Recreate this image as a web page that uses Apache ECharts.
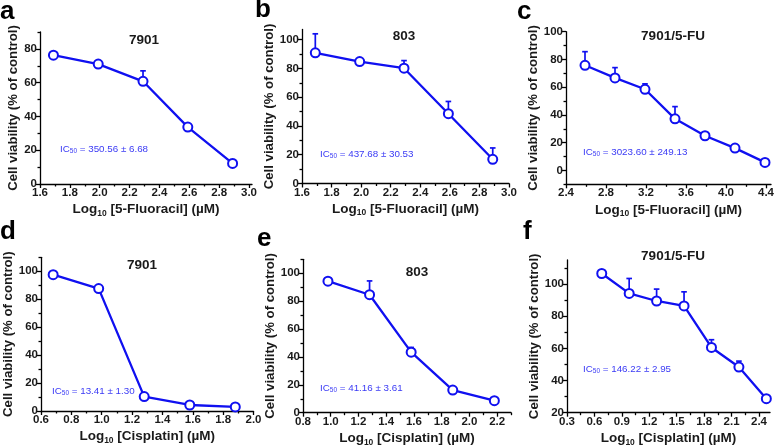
<!DOCTYPE html>
<html><head><meta charset="utf-8">
<script src="https://cdn.jsdelivr.net/npm/echarts@6/dist/echarts.min.js"></script>
<style>html,body{margin:0;padding:0;background:#fff}#c{width:777px;height:448px}</style>
</head><body><div id="c"></div>
<script>
// ---------- data ----------
const xA = [1.69, 1.99, 2.29, 2.59, 2.89];
const yA = [76.3, 71.0, 60.8, 33.7, 12.2];
const eA = [1.2, 0.6, 6.2, 0.8, 2.2];

const xB = [1.69, 1.99, 2.29, 2.59, 2.89];
const yB = [90.8, 84.7, 80.1, 48.5, 16.8];
const eB = [13.2, 1.0, 5.3, 8.5, 7.9];

const xC = [2.59, 2.89, 3.19, 3.49, 3.79, 4.09, 4.39];
const yC = [75.8, 66.7, 58.5, 37.2, 25.0, 16.1, 5.8];
const eC = [9.8, 7.4, 3.9, 8.8, 1.0, 1.2, 0.8];

const xD = [0.68, 0.98, 1.28, 1.58, 1.88];
const yD = [97.6, 87.6, 10.3, 4.3, 2.9];
const eD = [1.0, 1.0, 1.0, 1.0, 0.8];

const xE = [0.98, 1.28, 1.58, 1.88, 2.18];
const yE = [94.3, 84.6, 43.4, 16.2, 8.6];
const eE = [2.2, 9.9, 3.4, 1.0, 1.0];

const xF = [0.68, 0.98, 1.28, 1.58, 1.88, 2.18, 2.48];
const yF = [106.6, 94.2, 89.5, 86.4, 60.6, 48.4, 28.7];
const eF = [0.5, 9.3, 7.4, 8.8, 4.8, 3.7, 0.5];

const titles = ['7901', '803', '7901/5-FU', '7901', '803', '7901/5-FU'];
const letters = ['a', 'b', 'c', 'd', 'e', 'f'];
const ic50 = ['350.56 ± 6.68', '437.68 ± 30.53', '3023.60 ± 249.13', '13.41 ± 1.30', '41.16 ± 3.61', '146.22 ± 2.95'];
const drugs = ['5-Fluoracil', '5-Fluoracil', '5-Fluoracil', 'Cisplatin', 'Cisplatin', 'Cisplatin'];
const yName = 'Cell viability (% of control)';

// tick labels
const xTicksAB = [1.6, 1.8, 2.0, 2.2, 2.4, 2.6, 2.8, 3.0];
const xTicksC = [2.4, 2.8, 3.2, 3.6, 4.0, 4.4];
const xTicksD = [0.6, 0.8, 1.0, 1.2, 1.4, 1.6, 1.8, 2.0];
const xTicksE = [0.8, 1.0, 1.2, 1.4, 1.6, 1.8, 2.0, 2.2];
const xTicksF = [0.3, 0.6, 0.9, 1.2, 1.5, 1.8, 2.1, 2.4];
const yTicksA = [0, 20, 40, 60, 80];
const yTicks100 = [0, 20, 40, 60, 80, 100];
const yTicksF = [20, 40, 60, 80, 100];

// ---------- layout ----------
const BLUE = '#1010f0';
const TXTBLUE = '#3a3af5';
const FONT = '"Liberation Sans", Arial, sans-serif';

const panels = [
  {x: xA, y: yA, e: eA, xt: xTicksAB, yt: yTicksA,  xr: [1.6, 3.02],  yr: [0, 90],   g: {left: 40, top: 32, width: 212, height: 152}},
  {x: xB, y: yB, e: eB, xt: xTicksAB, yt: yTicks100, xr: [1.6, 3.0], yr: [0, 107],  g: {left: 302, top: 29.5, width: 207, height: 154}},
  {x: xC, y: yC, e: eC, xt: xTicksC, yt: yTicks100, xr: [2.4, 4.45],  yr: [-10, 100], g: {left: 566, top: 31.7, width: 205, height: 152.6}},
  {x: xD, y: yD, e: eD, xt: xTicksD, yt: yTicks100, xr: [0.6, 2.0],   yr: [0, 110],  g: {left: 41, top: 257.3, width: 212.5, height: 153.7}},
  {x: xE, y: yE, e: eE, xt: xTicksE, yt: yTicks100, xr: [0.8, 2.3],   yr: [0, 110],  g: {left: 303, top: 259.3, width: 208, height: 153.4}},
  {x: xF, y: yF, e: eF, xt: xTicksF, yt: yTicksF,   xr: [0.3, 2.52],  yr: [20, 115], g: {left: 567, top: 260, width: 203, height: 152.7}}
];
const letterPos = [[0, -1], [255, -3], [517, -1], [0, 219], [257, 226], [523, 219]];
const titlePos = [[144, 33], [404, 29], [673, 29], [142, 258], [417, 265], [673, 249]];
const icPos = [[60, 143], [320, 148], [583, 146], [52, 385], [320, 382], [583, 363]];

function minors(maj, r) {
  const st = maj[1] - maj[0];
  const out = [];
  for (let v = maj[0] - st / 2; v <= r[1] + 1e-9; v += st / 2) {
    const rv = Math.round(v * 1000) / 1000;
    if (rv >= r[0] - 1e-9 && rv <= r[1] + 1e-9 && !maj.some(m => Math.abs(m - rv) < 1e-6)) out.push(rv);
  }
  return out;
}

const grids = [], xAxes = [], yAxes = [], series = [], titleArr = [];
const axisLineStyle = {color: '#000', width: 1.3};
const labelStyle = {fontSize: 11.5, fontWeight: 'bold', color: '#1a1a1a', fontFamily: FONT};

panels.forEach((p, i) => {
  grids.push(Object.assign({outerBoundsMode: 'none', containLabel: false}, p.g));
  const xi = xAxes.length, yi = yAxes.length;
  xAxes.push({
    type: 'value', gridIndex: i, position: 'bottom', min: p.xr[0], max: p.xr[1],
    axisLine: {show: true, onZero: false, lineStyle: axisLineStyle},
    axisTick: {show: true, length: 4, customValues: p.xt, lineStyle: axisLineStyle},
    axisLabel: Object.assign({customValues: p.xt, margin: 3, formatter: v => Number(v).toFixed(1)}, labelStyle),
    splitLine: {show: false},
    name: '{a|Log}{s|10}{a| [' + drugs[i] + '] (µM)}',
    nameLocation: 'middle', nameGap: 17,
    nameTextStyle: {rich: {
      a: {fontSize: 13.5, fontWeight: 'bold', color: '#1a1a1a', fontFamily: FONT, lineHeight: 17},
      s: {fontSize: 8.5, fontWeight: 'bold', color: '#1a1a1a', fontFamily: FONT, verticalAlign: 'bottom', lineHeight: 17}
    }}
  });
  xAxes.push({
    type: 'value', gridIndex: i, position: 'bottom', min: p.xr[0], max: p.xr[1],
    axisLine: {show: false, onZero: false},
    axisTick: {show: true, length: 2.5, customValues: minors(p.xt, p.xr), lineStyle: axisLineStyle},
    axisLabel: {show: false}, splitLine: {show: false}
  });
  yAxes.push({
    type: 'value', gridIndex: i, position: 'left', min: p.yr[0], max: p.yr[1],
    axisLine: {show: true, onZero: false, lineStyle: axisLineStyle},
    axisTick: {show: true, length: 4, customValues: p.yt, lineStyle: axisLineStyle},
    axisLabel: Object.assign({customValues: p.yt, margin: 3}, labelStyle),
    splitLine: {show: false},
    name: yName, nameLocation: 'middle', nameGap: 12,
    nameTextStyle: {fontSize: 13.2, fontWeight: 'bold', color: '#1a1a1a', fontFamily: FONT}
  });
  yAxes.push({
    type: 'value', gridIndex: i, position: 'left', min: p.yr[0], max: p.yr[1],
    axisLine: {show: false, onZero: false},
    axisTick: {show: true, length: 2.5, customValues: minors(p.yt, p.yr), lineStyle: axisLineStyle},
    axisLabel: {show: false}, splitLine: {show: false}
  });
  const pts = p.x.map((xv, k) => [xv, p.y[k]]);
  const errs = p.x.map((xv, k) => [xv, p.y[k], p.y[k] + p.e[k]]);
  series.push({
    type: 'custom', xAxisIndex: xi, yAxisIndex: yi, z: 1, data: errs,
    encode: {x: 0, y: [1, 2]},
    renderItem: (params, api) => {
      const a = api.coord([api.value(0), api.value(1)]);
      const b = api.coord([api.value(0), api.value(2)]);
      const st = {stroke: BLUE, lineWidth: 1.7};
      return {type: 'group', children: [
        {type: 'line', shape: {x1: a[0], y1: a[1], x2: b[0], y2: b[1]}, style: st},
        {type: 'line', shape: {x1: b[0] - 2.8, y1: b[1], x2: b[0] + 2.8, y2: b[1]}, style: st}
      ]};
    }
  });
  series.push({
    type: 'line', xAxisIndex: xi, yAxisIndex: yi, z: 2, data: pts,
    symbol: 'circle', symbolSize: 9,
    lineStyle: {color: BLUE, width: 2.3},
    itemStyle: {color: '#fff', borderColor: BLUE, borderWidth: 2},
    animation: false
  });
  titleArr.push({text: letters[i], left: letterPos[i][0], top: letterPos[i][1], padding: 0,
    textStyle: {fontSize: 26, fontWeight: 'bold', color: '#000', fontFamily: FONT}});
  titleArr.push({text: titles[i], left: titlePos[i][0], top: titlePos[i][1], padding: 0, textAlign: 'center',
    textStyle: {fontSize: 13.5, fontWeight: 'bold', color: '#1a1a1a', fontFamily: FONT}});
  titleArr.push({text: '{a|IC}{s|50}{a| = ' + ic50[i] + '}', left: icPos[i][0], top: icPos[i][1], padding: 0,
    textStyle: {fontWeight: 'normal', rich: {
      a: {fontSize: 9.8, fontWeight: 'normal', color: TXTBLUE, fontFamily: FONT, lineHeight: 12},
      s: {fontSize: 6.5, fontWeight: 'normal', color: TXTBLUE, fontFamily: FONT, verticalAlign: 'bottom', lineHeight: 12}
    }}});
});

const chart = echarts.init(document.getElementById('c'), null, {renderer: 'canvas'});
chart.setOption({
  animation: false,
  backgroundColor: '#fff',
  title: titleArr,
  grid: grids,
  xAxis: xAxes,
  yAxis: yAxes,
  series: series
});
</script>
</body></html>
